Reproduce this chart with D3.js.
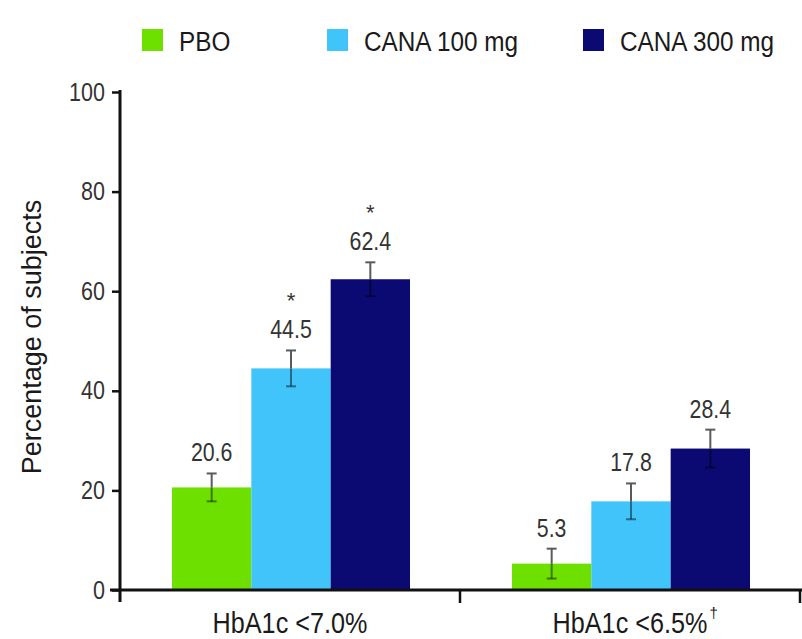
<!DOCTYPE html>
<html>
<head>
<meta charset="utf-8">
<script src="https://cdn.jsdelivr.net/npm/d3@7"></script>
<style>
  html, body { margin: 0; padding: 0; background: #fff; }
  svg { display: block; }
  text { font-family: "Liberation Sans", Arial, sans-serif; fill: #1a1a1a; }
</style>
</head>
<body>
<svg id="chart" width="802" height="639"></svg>
<script>
const categories = ["HbA1c <7.0%", "HbA1c <6.5%"];
const categoryMarks = ["", "†"];
const seriesNames = ["PBO", "CANA 100 mg", "CANA 300 mg"];
const seriesColors = ["#6ee000", "#40c4fa", "#0a0a72"];
const values = [
  [20.6, 44.5, 62.4],
  [5.3, 17.8, 28.4]
];
const errors = [
  [2.8, 3.6, 3.4],
  [3.0, 3.6, 3.8]
];
const significant = [
  [false, true, true],
  [false, false, false]
];
const yTicks = [0, 20, 40, 60, 80, 100];
const yTitle = "Percentage of subjects";

(function () {
const svg = d3.select("#chart");
const W = 802, H = 639;
const mLeft = 120, mRight = 800, mTop = 92, mBottom = 590;

// horizontally condense text glyphs to mimic the narrow face of the original
function condense(sel, ratio) {
  sel.each(function () {
    const w = this.getComputedTextLength();
    this.setAttribute("textLength", (w * ratio).toFixed(1));
    this.setAttribute("lengthAdjust", "spacingAndGlyphs");
  });
}

const y = d3.scaleLinear().domain([0, 100]).range([mBottom, mTop]);
const x0 = d3.scaleBand().domain(categories).range([mLeft, mRight]).padding(0);
const x1 = d3.scaleBand().domain(seriesNames).range([52, 290]).padding(0);
const color = d3.scaleOrdinal().domain(seriesNames).range(seriesColors);

const groups = svg.append("g").selectAll("g")
  .data(categories)
  .join("g")
  .attr("transform", d => `translate(${x0(d)},0)`);

groups.each(function(cat, ci) {
  const g = d3.select(this);
  const rows = seriesNames.map((s, si) => ({ s, v: values[ci][si], e: errors[ci][si], sig: significant[ci][si] }));
  g.selectAll("rect").data(rows).join("rect")
    .attr("x", d => x1(d.s))
    .attr("y", d => y(d.v))
    .attr("width", x1.bandwidth())
    .attr("height", d => y(0) - y(d.v))
    .attr("fill", d => color(d.s));

  const cx = d => x1(d.s) + x1.bandwidth() / 2;
  const eb = g.selectAll("g.err").data(rows).join("g").attr("class", "err");
  eb.append("line")
    .attr("x1", cx).attr("x2", cx)
    .attr("y1", d => y(d.v + d.e)).attr("y2", d => y(d.v))
    .attr("stroke", "#5a5a5a").attr("stroke-width", 2);
  eb.append("line")
    .attr("x1", cx).attr("x2", cx)
    .attr("y1", d => y(d.v)).attr("y2", d => y(Math.max(0, d.v - d.e)))
    .attr("stroke", "#000").attr("stroke-opacity", 0.45).attr("stroke-width", 2);
  eb.append("line")
    .attr("x1", d => cx(d) - 5).attr("x2", d => cx(d) + 5)
    .attr("y1", d => y(d.v + d.e)).attr("y2", d => y(d.v + d.e))
    .attr("stroke", "#5a5a5a").attr("stroke-width", 2);
  eb.append("line")
    .attr("x1", d => cx(d) - 5).attr("x2", d => cx(d) + 5)
    .attr("y1", d => y(Math.max(0, d.v - d.e))).attr("y2", d => y(Math.max(0, d.v - d.e)))
    .attr("stroke", "#000").attr("stroke-opacity", 0.45).attr("stroke-width", 2);

  g.selectAll("text.val").data(rows).join("text")
    .attr("class", "val")
    .attr("x", cx)
    .attr("y", d => y(d.v + d.e) - 12)
    .attr("text-anchor", "middle")
    .attr("font-size", 26)
    .style("fill", "#333")
    .text(d => d.v.toFixed(1))
    .call(condense, 0.82);

  g.selectAll("text.sig").data(rows.filter(d => d.sig)).join("text")
    .attr("class", "sig")
    .attr("x", cx)
    .attr("y", d => y(d.v + d.e) - 12 - 30)
    .attr("text-anchor", "middle")
    .attr("font-size", 22)
    .style("fill", "#333")
    .text("*");
});

// Y axis
const yAxis = d3.axisLeft(y).tickValues(yTicks).tickSize(8).tickPadding(7);
const ya = svg.append("g").attr("transform", `translate(${mLeft},0)`).call(yAxis);
ya.select(".domain").remove();
ya.selectAll(".tick line").attr("stroke", "#111").attr("stroke-width", 2.5);
ya.selectAll(".tick text").attr("font-size", 25).style("fill", "#333")
  .attr("font-family", "'Liberation Sans', Arial, sans-serif")
  .call(condense, 0.86);
svg.append("line").attr("x1", mLeft).attr("x2", mLeft).attr("y1", y(100) - 2).attr("y2", mBottom + 12)
  .attr("stroke", "#111").attr("stroke-width", 3);

// X axis
svg.append("line").attr("x1", 110).attr("x2", W).attr("y1", mBottom).attr("y2", mBottom)
  .attr("stroke", "#111").attr("stroke-width", 3);
const bounds = categories.map(c => x0(c)).concat([x0(categories[categories.length - 1]) + x0.bandwidth()]);
svg.selectAll("line.xt").data(bounds.slice(1)).join("line")
  .attr("class", "xt")
  .attr("x1", d => d).attr("x2", d => d)
  .attr("y1", mBottom).attr("y2", mBottom + 13)
  .attr("stroke", "#111").attr("stroke-width", 2.5);

const catText = svg.selectAll("text.cat").data(categories).join("text")
  .attr("class", "cat")
  .attr("x", d => x0(d) + x0.bandwidth() / 2)
  .attr("y", 633)
  .attr("text-anchor", "middle")
  .attr("font-size", 30)
  .text(d => d)
  .call(condense, 0.84);
// superscript marks placed just after each category label
catText.each(function (d, i) {
  if (!categoryMarks[i]) return;
  const bb = this.getBBox();
  svg.append("text")
    .attr("x", bb.x + bb.width + 2)
    .attr("y", 618)
    .attr("font-size", 15)
    .text(categoryMarks[i]);
});

// Y title
svg.append("text")
  .attr("transform", `translate(41,${(mTop + mBottom) / 2 - 4}) rotate(-90)`)
  .attr("text-anchor", "middle")
  .attr("font-size", 27)
  .text(yTitle);

// Legend
const legendX = [142, 327, 583];
const leg = svg.append("g").selectAll("g").data(seriesNames).join("g")
  .attr("transform", (d, i) => `translate(${legendX[i]},0)`);
leg.append("rect").attr("x", 0).attr("y", 29).attr("width", 21).attr("height", 22)
  .attr("fill", d => color(d));
leg.append("text").attr("x", 37).attr("y", 51).attr("font-size", 27).text(d => d)
  .call(condense, 0.9);
})();
</script>
</body>
</html>
